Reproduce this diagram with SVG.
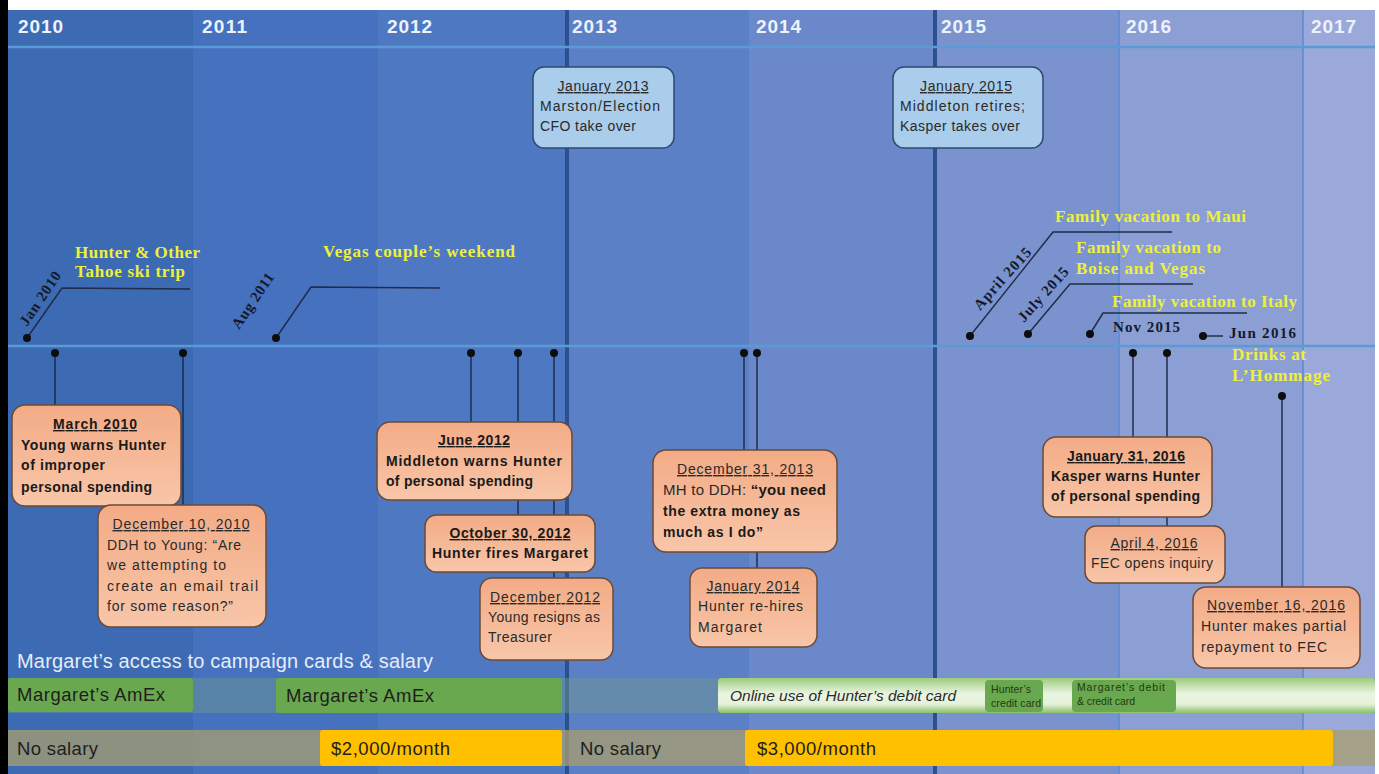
<svg xmlns="http://www.w3.org/2000/svg" width="1379" height="774" viewBox="0 0 1379 774">
<defs>
<linearGradient id="og" x1="0" y1="0" x2="0" y2="1"><stop offset="0" stop-color="#f3ab86"/><stop offset="1" stop-color="#f8c6a9"/></linearGradient>
<linearGradient id="gg" x1="0" y1="0" x2="0" y2="1"><stop offset="0" stop-color="#9ccb7c"/><stop offset="0.45" stop-color="#eaf5e2"/><stop offset="0.75" stop-color="#e4f1da"/><stop offset="1" stop-color="#8cc06a"/></linearGradient>
<style>
.yr{font-family:"Liberation Sans",Arial,sans-serif;font-weight:bold;font-size:19px;fill:#eef2fa}
.ob{fill:url(#og);stroke:#6b4a35;stroke-width:1.5}
.bb{fill:#a9cdeb;stroke:#2e4a72;stroke-width:1.5}
.t{font-family:"Liberation Sans",Arial,sans-serif;font-size:14px;fill:#2a2a2a}
.tb{font-family:"Liberation Sans",Arial,sans-serif;font-size:14px;font-weight:bold;fill:#1a1a1a}
.u{text-decoration:underline}
.c{text-anchor:middle}
.y{font-family:"Liberation Serif","Times New Roman",serif;font-weight:bold;font-size:17px;fill:#eef03a}
.d{font-family:"Liberation Serif","Times New Roman",serif;font-weight:bold;font-size:15px;fill:#151a2a}
.cn{stroke:#1f2d4a;stroke-width:1.5;fill:none}
.dot{fill:#0d0d0d}
.bar{font-family:"Liberation Sans",Arial,sans-serif;font-size:18.5px;fill:#1e1e1e}
.sm{font-family:"Liberation Sans",Arial,sans-serif;font-size:10.5px;fill:#1f3a12}
</style>
</defs>
<rect x="0" y="0" width="1379" height="774" fill="#ffffff"/>
<g id="background">
<rect x="8" y="10" width="185" height="764" fill="#3c6ab3"/>
<rect x="193" y="10" width="185" height="764" fill="#4571bf"/>
<rect x="378" y="10" width="187" height="764" fill="#4f78c2"/>
<rect x="565" y="10" width="184" height="764" fill="#5c80c6"/>
<rect x="749" y="10" width="186" height="764" fill="#6b89ca"/>
<rect x="935" y="10" width="184" height="764" fill="#7a93cf"/>
<rect x="1119" y="10" width="184" height="764" fill="#8b9fd4"/>
<rect x="1303" y="10" width="72" height="764" fill="#9aa9d9"/>
<line x1="1119" y1="10" x2="1119" y2="774" stroke="#5a8ad0" stroke-width="1.5"/>
<line x1="1303" y1="10" x2="1303" y2="774" stroke="#5a8ad0" stroke-width="1.5"/>
<line x1="567" y1="10" x2="567" y2="774" stroke="#2c4f8f" stroke-width="4"/>
<line x1="935" y1="10" x2="935" y2="774" stroke="#2c4f8f" stroke-width="4"/>
<line x1="8" y1="47" x2="1375" y2="47" stroke="#5b9bd5" stroke-width="2.5"/>
<line x1="8" y1="346" x2="1375" y2="346" stroke="#5b9bd5" stroke-width="2.5"/>
<rect x="0" y="0" width="8" height="774" fill="#000"/>
<text class="yr" x="18" y="33" textLength="45">2010</text>
<text class="yr" x="202" y="33" textLength="45">2011</text>
<text class="yr" x="387" y="33" textLength="45">2012</text>
<text class="yr" x="572" y="33" textLength="45">2013</text>
<text class="yr" x="756" y="33" textLength="45">2014</text>
<text class="yr" x="941" y="33" textLength="45">2015</text>
<text class="yr" x="1126" y="33" textLength="45">2016</text>
<text class="yr" x="1311" y="33" textLength="45">2017</text>
</g>
<g id="connectors">
<line class="cn" x1="55" y1="353" x2="55" y2="405"/>
<line class="cn" x1="183" y1="353" x2="183" y2="505"/>
<line class="cn" x1="471" y1="353" x2="471" y2="422"/>
<line class="cn" x1="518" y1="353" x2="518" y2="515"/>
<line class="cn" x1="554" y1="353" x2="554" y2="578"/>
<line class="cn" x1="744" y1="353" x2="744" y2="450"/>
<line class="cn" x1="757" y1="353" x2="757" y2="568"/>
<line class="cn" x1="1133" y1="353" x2="1133" y2="437"/>
<line class="cn" x1="1167" y1="353" x2="1167" y2="526"/>
<line class="cn" x1="1282" y1="396" x2="1282" y2="587"/>
<polyline class="cn" points="27,338 62,288 190,289"/>
<polyline class="cn" points="276,338 311,287 440,288"/>
<polyline class="cn" points="970,336 1053,232 1172,232"/>
<polyline class="cn" points="1028,334 1070,284 1193,284"/>
<polyline class="cn" points="1090,334 1103,313 1247,313"/>
<line class="cn" x1="1203" y1="336" x2="1223" y2="336"/>
<circle class="dot" cx="55" cy="353" r="4"/>
<circle class="dot" cx="183" cy="353" r="4"/>
<circle class="dot" cx="471" cy="353" r="4"/>
<circle class="dot" cx="518" cy="353" r="4"/>
<circle class="dot" cx="554" cy="353" r="4"/>
<circle class="dot" cx="744" cy="353" r="4"/>
<circle class="dot" cx="757" cy="353" r="4"/>
<circle class="dot" cx="1133" cy="353" r="4"/>
<circle class="dot" cx="1167" cy="353" r="4"/>
<circle class="dot" cx="1282" cy="396" r="4"/>
<circle class="dot" cx="27" cy="338" r="4"/>
<circle class="dot" cx="276" cy="338" r="4"/>
<circle class="dot" cx="970" cy="336" r="4"/>
<circle class="dot" cx="1028" cy="334" r="4"/>
<circle class="dot" cx="1090" cy="334" r="4"/>
<circle class="dot" cx="1203" cy="336" r="4"/>
</g>
<g id="ev-jan2010">
<text class="d" transform="translate(27,327) rotate(-56)" textLength="62">Jan 2010</text>
<text class="y" x="75" y="258" textLength="125">Hunter &amp; Other</text>
<text class="y" x="75" y="277" textLength="110">Tahoe ski trip</text>
</g>
<g id="ev-aug2011">
<text class="d" transform="translate(239,330) rotate(-56)" textLength="64">Aug 2011</text>
<text class="y" x="323" y="257" textLength="192">Vegas couple’s weekend</text>
</g>
<g id="ev-apr2015">
<text class="d" transform="translate(980,311) rotate(-48)" textLength="78">April 2015</text>
<text class="y" x="1055" y="222" textLength="191">Family vacation to Maui</text>
</g>
<g id="ev-jul2015">
<text class="d" transform="translate(1024,323) rotate(-48)" textLength="68">July 2015</text>
<text class="y" x="1076" y="253" textLength="145">Family vacation to</text>
<text class="y" x="1076" y="274" textLength="129">Boise and Vegas</text>
</g>
<g id="ev-nov2015">
<text class="y" x="1112" y="307" textLength="185">Family vacation to Italy</text>
<text class="d" x="1113" y="332" textLength="67">Nov 2015</text>
</g>
<g id="ev-jun2016">
<text class="d" x="1229" y="338" textLength="67">Jun 2016</text>
<text class="y" x="1232" y="360" textLength="74">Drinks at</text>
<text class="y" x="1232" y="381" textLength="98">L’Hommage</text>
</g>
<g id="box-jan2013">
<rect class="bb" x="533" y="67" width="141" height="81" rx="11"/>
<text class="t c u" x="603" y="91" textLength="91">January 2013</text>
<text class="t" x="540" y="111" textLength="120">Marston/Election</text>
<text class="t" x="540" y="131" textLength="96">CFO take over</text>
</g>
<g id="box-jan2015">
<rect class="bb" x="893" y="67" width="150" height="81" rx="11"/>
<text class="t c u" x="966" y="91" textLength="92">January 2015</text>
<text class="t" x="900" y="111" textLength="125">Middleton retires;</text>
<text class="t" x="900" y="131" textLength="120">Kasper takes over</text>
</g>
<g id="box-mar2010">
<rect class="ob" x="12" y="405" width="169" height="101" rx="13"/>
<text class="tb c u" x="95" y="429" textLength="84">March 2010</text>
<text class="tb" x="21" y="450" textLength="145">Young warns Hunter</text>
<text class="tb" x="21" y="470" textLength="84">of improper</text>
<text class="tb" x="21" y="492" textLength="131">personal spending</text>
</g>
<g id="box-dec2010">
<rect class="ob" x="98" y="505" width="168" height="122" rx="13"/>
<text class="t c u" x="181" y="529" textLength="137">December 10, 2010</text>
<text class="t" x="107" y="550" textLength="134">DDH to Young: “Are</text>
<text class="t" x="107" y="570" textLength="119">we attempting to</text>
<text class="t" x="107" y="591" textLength="151">create an email trail</text>
<text class="t" x="107" y="611" textLength="126">for some reason?”</text>
</g>
<g id="box-jun2012">
<rect class="ob" x="377" y="422" width="195" height="78" rx="13"/>
<text class="tb c u" x="474" y="445" textLength="72">June 2012</text>
<text class="tb" x="386" y="466" textLength="176">Middleton warns Hunter</text>
<text class="tb" x="386" y="486" textLength="147">of personal spending</text>
</g>
<g id="box-oct2012">
<rect class="ob" x="425" y="515" width="170" height="57" rx="11"/>
<text class="tb c u" x="510" y="538" textLength="121">October 30, 2012</text>
<text class="tb c" x="510" y="558" textLength="156">Hunter fires Margaret</text>
</g>
<g id="box-dec2012">
<rect class="ob" x="480" y="578" width="133" height="82" rx="12"/>
<text class="t c u" x="545" y="602" textLength="110">December 2012</text>
<text class="t" x="488" y="622" textLength="112">Young resigns as</text>
<text class="t" x="488" y="642" textLength="64">Treasurer</text>
</g>
<g id="box-dec2013">
<rect class="ob" x="653" y="450" width="184" height="102" rx="13"/>
<text class="t c u" x="745" y="474" textLength="136">December 31, 2013</text>
<text x="663" y="495" font-size="15" textLength="163"><tspan class="t" style="font-size:15px">MH to DDH: </tspan><tspan class="tb" style="font-size:15px">“you need</tspan></text>
<text class="tb" x="663" y="516" textLength="137">the extra money as</text>
<text class="tb" x="663" y="537" textLength="100">much as I do”</text>
</g>
<g id="box-jan2014">
<rect class="ob" x="690" y="568" width="127" height="79" rx="12"/>
<text class="t c u" x="753" y="591" textLength="93">January 2014</text>
<text class="t" x="698" y="611" textLength="105">Hunter re-hires</text>
<text class="t" x="698" y="632" textLength="64">Margaret</text>
</g>
<g id="box-jan2016">
<rect class="ob" x="1043" y="437" width="169" height="80" rx="13"/>
<text class="tb c u" x="1126" y="461" textLength="118">January 31, 2016</text>
<text class="tb" x="1051" y="481" textLength="149">Kasper warns Hunter</text>
<text class="tb" x="1051" y="501" textLength="149">of personal spending</text>
</g>
<g id="box-apr2016">
<rect class="ob" x="1085" y="526" width="140" height="57" rx="11"/>
<text class="t c u" x="1154" y="548" textLength="87">April 4, 2016</text>
<text class="t" x="1091" y="568" textLength="122">FEC opens inquiry</text>
</g>
<g id="box-nov2016">
<rect class="ob" x="1193" y="587" width="167" height="81" rx="13"/>
<text class="t c u" x="1276" y="610" textLength="138">November 16, 2016</text>
<text class="t" x="1201" y="631" textLength="145">Hunter makes partial</text>
<text class="t" x="1201" y="652" textLength="126">repayment to FEC</text>
</g>
<g id="bottom-rows">
<text x="17" y="668" font-family="Liberation Sans, Arial, sans-serif" font-size="20" fill="#e6ecf7" textLength="416">Margaret’s access to campaign cards &amp; salary</text>
<rect x="8" y="678" width="1367" height="35" fill="#6f9a8c" opacity="0.45"/>
<rect x="8" y="678" width="185" height="34" rx="3" fill="#6aa84f"/>
<text class="bar" x="17" y="701" textLength="148">Margaret’s AmEx</text>
<rect x="276" y="678" width="286" height="35" rx="3" fill="#6aa84f"/>
<text class="bar" x="286" y="702" textLength="148">Margaret’s AmEx</text>
<rect x="718" y="678" width="657" height="35" rx="4" fill="url(#gg)"/>
<text x="730" y="701" font-family="Liberation Sans, Arial, sans-serif" font-style="italic" font-size="15.5" fill="#2a2a2a" textLength="226">Online use of Hunter’s debit card</text>
<rect x="985" y="680" width="58" height="32" rx="4" fill="#6aa84f"/>
<text class="sm" x="991" y="693" textLength="40">Hunter’s</text>
<text class="sm" x="991" y="707" textLength="50">credit card</text>
<rect x="1072" y="680" width="104" height="32" rx="4" fill="#6aa84f"/>
<text class="sm" x="1077" y="691" textLength="88">Margaret’s debit</text>
<text class="sm" x="1077" y="705" textLength="58">&amp; credit card</text>
<rect x="8" y="730" width="1367" height="36" fill="#a89f6e" opacity="0.75"/>
<rect x="320" y="730" width="242" height="36" rx="3" fill="#ffc000"/>
<rect x="745" y="730" width="588" height="36" rx="3" fill="#ffc000"/>
<text class="bar" x="17" y="755" textLength="81">No salary</text>
<text class="bar" x="331" y="755" textLength="119">$2,000/month</text>
<text class="bar" x="580" y="755" textLength="81">No salary</text>
<text class="bar" x="757" y="755" textLength="119">$3,000/month</text>
</g>
</svg>
